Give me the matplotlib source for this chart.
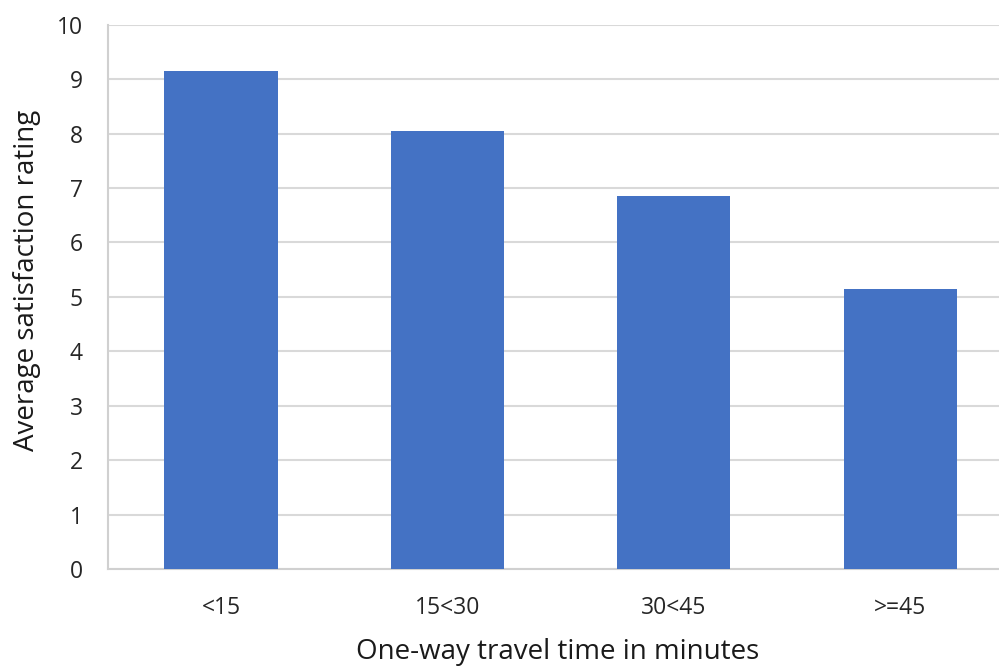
import matplotlib.pyplot as plt

categories = ["<15", "15<30", "30<45", ">=45"]
ratings = [9.15, 8.05, 6.85, 5.15]
y_ticks = [0, 1, 2, 3, 4, 5, 6, 7, 8, 9, 10]

plt.rcParams['font.family'] = ['Open Sans', 'DejaVu Sans']

fig = plt.figure(figsize=(9.99, 6.68), dpi=100)
# the axes runs past the right edge, the original picture is cropped there
ax = fig.add_axes([0.108, 0.148, 0.9065, 0.815])

x = list(range(len(categories)))
ax.bar(x, ratings, width=0.5, color="#4472C4", zorder=3)

ax.set_xlim(-0.5, len(categories) - 0.5)
ax.set_ylim(0, 10)
ax.set_yticks(y_ticks)
ax.set_xticks(x)
ax.set_xticklabels(categories)

ax.grid(axis='y', color='#d9d9d9', linewidth=1.5, zorder=0)
for side in ['top', 'right']:
    ax.spines[side].set_visible(False)
ax.spines['left'].set_color('#d0d0d0')
ax.spines['left'].set_linewidth(1.5)
ax.spines['bottom'].set_color('#d0d0d0')
ax.spines['bottom'].set_linewidth(1.5)

ax.tick_params(axis='both', length=0, labelsize=16.5, colors='#262626')
ax.tick_params(axis='y', pad=18)
ax.tick_params(axis='x', pad=19)

ax.set_ylabel("Average satisfaction rating", fontsize=20, color='#1a1a1a')
ax.set_xlabel("One-way travel time in minutes", fontsize=20,
              color='#1a1a1a')
# place the titles where they sit in the picture (centred on what is visible)
ax.xaxis.set_label_coords(0.497, -0.1525)
ax.xaxis.label.set_va('center')
ax.yaxis.set_label_coords(-0.0894, 0.531)
ax.yaxis.label.set_va('center')

fig.savefig('out.png', dpi=100)
